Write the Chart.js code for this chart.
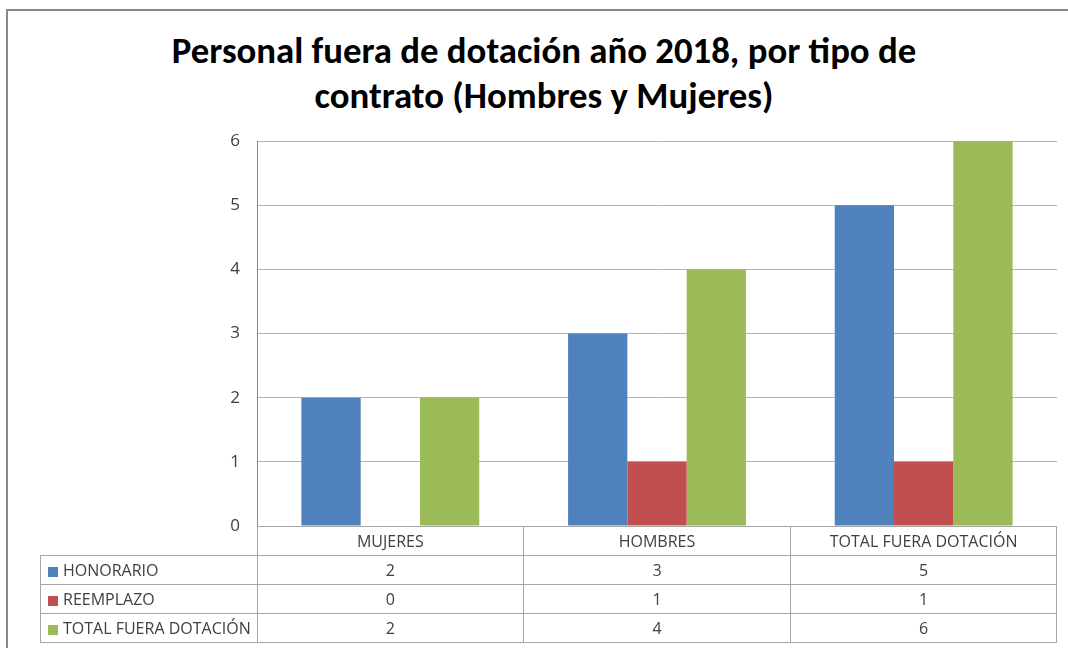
<!DOCTYPE html>
<html>
<head>
<meta charset="utf-8">
<script src="https://cdn.jsdelivr.net/npm/chart.js@4/dist/chart.umd.min.js"></script>
<style>
  body { margin: 0; background: #fff; }
  #wrap { position: relative; width: 1068px; height: 648px; overflow: hidden; font-family: Carlito, Calibri, Lato, sans-serif; }
  #frame { position: absolute; left: 6px; top: 9px; width: 1080px; height: 680px; border: 2px solid #888; box-sizing: border-box; }
  #titulo { position: absolute; left: 20px; top: 28px; width: 1048px; text-align: center; font-weight: bold; color: #000; line-height: 45px; }
  #grafico { position: absolute; left: 0; top: 0; }
  #tabla { position: absolute; border-collapse: collapse; color: #404040; font-family: 'Open Sans', sans-serif; font-size: 16px; table-layout: fixed; }
  #tabla td { border: 1px solid #a6a6a6; height: 28px; padding: 0; text-align: center; white-space: nowrap; overflow: hidden; }
  #tabla td.vacio { border-top: none; border-left: none; }
  #tabla td.leyenda { text-align: left; padding-left: 7px; }
  #tabla td.eje { border-left-color: #888; }
  .cuadro { display: inline-block; width: 10px; height: 10px; margin-right: 5px; vertical-align: -1px; }
</style>
</head>
<body>
<div id="wrap">
  <div id="frame"></div>
  <div id="titulo">Personal fuera de dotación año 2018, por tipo de<br>contrato (Hombres y Mujeres)</div>
  <canvas id="grafico" width="1068" height="648"></canvas>
  <table id="tabla"></table>
</div>
<script>
// Datos
const categorias = ['MUJERES', 'HOMBRES', 'TOTAL FUERA DOTACIÓN'];
const series = ['HONORARIO', 'REEMPLAZO', 'TOTAL FUERA DOTACIÓN'];
const honorario = [2, 3, 5];
const reemplazo = [0, 1, 1];
const totalFuera = [2, 4, 6];
const valoresY = [0, 1, 2, 3, 4, 5, 6];

const colores = ['#4F81BD', '#C0504D', '#9BBB59'];
const valores = [honorario, reemplazo, totalFuera];

// ajustar tamaño del título al ancho del original
(function () {
  const c = document.createElement('canvas').getContext('2d');
  const fam = getComputedStyle(document.getElementById('wrap')).fontFamily;
  c.font = 'bold 100px ' + fam;
  const w = c.measureText('Personal fuera de dotación año 2018, por tipo de').width;
  document.getElementById('titulo').style.fontSize = (100 * 745 / w).toFixed(1) + 'px';
})();

// tabla de datos bajo el gráfico
function armarTabla() {
  let html = '<tr><td class="vacio"></td>' + categorias.map((c, i) => `<td${i === 0 ? ' class="eje"' : ''}>${c}</td>`).join('') + '</tr>';
  series.forEach((s, k) => {
    html += `<tr><td class="leyenda"><span class="cuadro" style="background:${colores[k]}"></span>${s}</td>` +
      valores[k].map((v, i) => `<td${i === 0 ? ' class="eje"' : ''}>${v}</td>`).join('') + '</tr>';
  });
  document.getElementById('tabla').innerHTML = html;
}
armarTabla();

const anchoLeyenda = 217;

const ubicarTabla = {
  id: 'ubicarTabla',
  afterRender(chart) {
    const a = chart.chartArea;
    const t = document.getElementById('tabla');
    const anchoCat = (a.right - a.left) / categorias.length;
    t.style.left = (a.left - anchoLeyenda) + 'px';
    t.style.top = a.bottom + 'px';
    t.style.width = (a.right - a.left + anchoLeyenda - 1) + 'px';
    const fila = t.rows[0];
    fila.cells[0].style.width = (anchoLeyenda - 1) + 'px';
    for (let i = 1; i < fila.cells.length; i++) fila.cells[i].style.width = (anchoCat - 1) + 'px';
  }
};

new Chart(document.getElementById('grafico'), {
  type: 'bar',
  data: {
    labels: categorias,
    datasets: series.map((s, k) => ({
      label: s,
      data: valores[k],
      backgroundColor: colores[k],
      borderWidth: 0,
      categoryPercentage: 0.667,
      barPercentage: 1.0
    }))
  },
  options: {
    responsive: false,
    animation: false,
    layout: { padding: { top: 141, bottom: 122, left: 0, right: 11 } },
    plugins: {
      legend: { display: false },
      title: { display: false },
      tooltip: { enabled: false }
    },
    scales: {
      x: { display: false },
      y: {
        min: valoresY[0],
        max: valoresY[valoresY.length - 1],
        afterBuildTicks: (s) => { s.ticks = valoresY.map(v => ({ value: v })); },
        afterFit: (s) => { s.width = 257; },
        grid: { color: '#b3b3b3', drawTicks: false },
        border: { display: true, color: '#888' },
        ticks: {
          color: '#404040',
          padding: 17,
          font: { family: "'Open Sans', sans-serif", size: 17 }
        }
      }
    }
  },
  plugins: [ubicarTabla]
});
</script>
</body>
</html>
